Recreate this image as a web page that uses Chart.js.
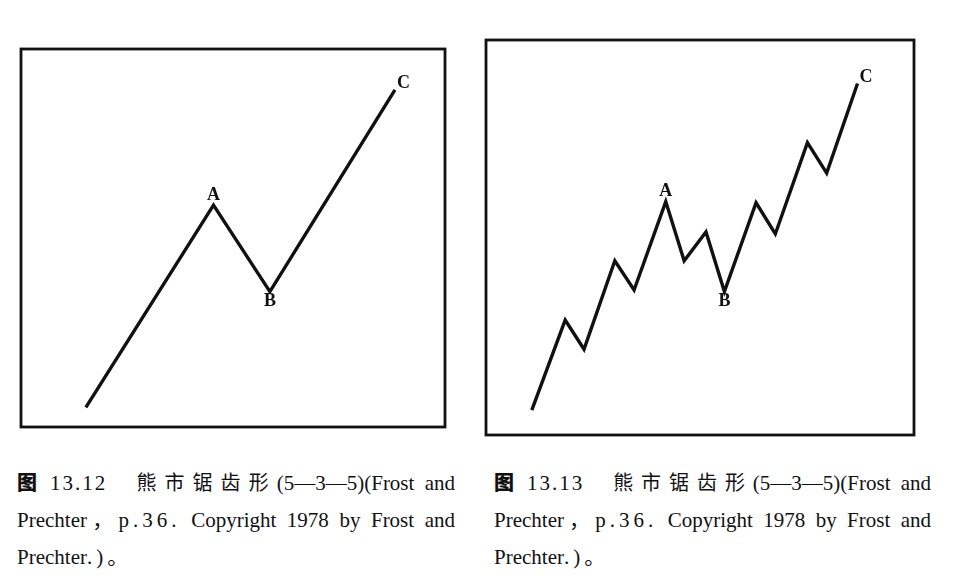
<!DOCTYPE html>
<html><head><meta charset="utf-8">
<script src="https://cdn.jsdelivr.net/npm/chart.js@4.4.1/dist/chart.umd.min.js"></script>
<style>
html,body{margin:0;padding:0;background:#fff;width:968px;height:584px;overflow:hidden;position:relative}
.box{position:absolute}
.cap{position:absolute;font-family:"Liberation Serif","Noto Sans CJK SC",serif;font-size:21px;color:#111;line-height:37px}
.cap div{text-align:justify;text-align-last:justify;text-justify:inter-word;white-space:nowrap}
.cap div.last{text-align-last:left}
.cap b{font-family:"Noto Sans CJK SC";font-weight:900;font-size:20px}
.cjk{font-family:"Noto Sans CJK SC";font-size:20px;letter-spacing:3px}
.n{letter-spacing:2px}
.p{letter-spacing:4px}
</style></head><body>
<div class="box" id="b1" style="left:15px;top:43px;width:436px;height:390px"><canvas id="c1"></canvas></div>
<div class="box" id="b2" style="left:480px;top:34px;width:440px;height:407px"><canvas id="c2"></canvas></div>
<div class="cap" style="left:17px;top:463px;width:438px">
<div><b>图</b><span class="n" style="margin-left:8px">13.12</span><span class="cjk" style="margin-left:24px">熊市锯齿形</span>(5—3—5)(Frost and</div>
<div>Prechter，<span class="p">p.36.</span> Copyright 1978 by Frost and</div>
<div class="last">Prechter<span class="p">.)</span>。</div>
</div>
<div class="cap" style="left:494px;top:463px;width:437px">
<div><b>图</b><span class="n" style="margin-left:8px">13.13</span><span class="cjk" style="margin-left:24px">熊市锯齿形</span>(5—3—5)(Frost and</div>
<div>Prechter，<span class="p">p.36.</span> Copyright 1978 by Frost and</div>
<div class="last">Prechter<span class="p">.)</span>。</div>
</div>
<script>
// Figure 13.12 (zigzag 5-3-5)
const x1 = [15.3, 45.4, 58.7, 88.2];
const y1 = [5.2, 58.7, 35.8, 89.2];
const labels1 = ['', 'A', 'B', 'C'];
// Figure 13.13 (zigzag with subwaves)
const x2 = [10.7, 18.5, 22.9, 30.1, 34.6, 42.0, 46.3, 51.4, 55.7, 63.1, 67.6, 75.1, 79.6, 86.8];
const y2 = [6.3, 29.1, 21.7, 44.1, 36.7, 59.1, 44.1, 51.4, 36.3, 58.8, 50.9, 74.0, 66.3, 89.0];
const labels2 = ['', '', '', '', '', 'A', '', '', 'B', '', '', '', '', 'C'];
// label placement: 'above', 'below', 'right'
const place1 = ['', 'above', 'below', 'right'];
const place2 = ['', '', '', '', '', 'above', '', '', 'below', '', '', '', '', 'right'];

const framePlugin = {
  id: 'frame',
  afterDraw(chart) {
    const a = chart.chartArea, ctx = chart.ctx;
    ctx.save();
    ctx.strokeStyle = '#111';
    ctx.lineWidth = 2.8;
    ctx.strokeRect(a.left, a.top, a.right - a.left, a.bottom - a.top);
    ctx.restore();
  }
};
const labelPlugin = {
  id: 'wlabels',
  afterDatasetsDraw(chart, args, opts) {
    const ctx = chart.ctx;
    const meta = chart.getDatasetMeta(0);
    ctx.save();
    ctx.fillStyle = '#111';
    ctx.font = 'bold 18px "Liberation Serif", serif';
    ctx.textAlign = 'center';
    meta.data.forEach((pt, i) => {
      const t = opts.labels[i];
      if (!t) return;
      const p = opts.place[i];
      if (p === 'above') { ctx.textBaseline = 'bottom'; ctx.fillText(t, pt.x, pt.y - 1); }
      else if (p === 'below') { ctx.textBaseline = 'top'; ctx.fillText(t, pt.x, pt.y + 1); }
      else { ctx.textBaseline = 'bottom'; ctx.textAlign = 'left'; ctx.fillText(t, pt.x + 2, pt.y + 3); ctx.textAlign = 'center'; }
    });
    ctx.restore();
  }
};

function make(id, xs, ys, labels, place, pad) {
  const data = xs.map((x, i) => ({x: x, y: ys[i]}));
  return new Chart(document.getElementById(id), {
    type: 'line',
    data: { datasets: [{ data: data, borderColor: '#111', borderWidth: 3.4, pointRadius: 0, tension: 0, fill: false, borderJoinStyle: 'miter', clip: false }] },
    options: {
      responsive: true, maintainAspectRatio: false, animation: false,
      layout: { padding: pad },
      plugins: { legend: { display: false }, tooltip: { enabled: false }, wlabels: { labels: labels, place: place } },
      scales: {
        x: { type: 'linear', min: 0, max: 100, display: false },
        y: { type: 'linear', min: 0, max: 100, display: false }
      }
    },
    plugins: [framePlugin, labelPlugin]
  });
}
make('c1', x1, y1, labels1, place1, {left: 6, top: 6, right: 6, bottom: 6});
make('c2', x2, y2, labels2, place2, {left: 6, top: 6, right: 6, bottom: 6});
</script>
</body></html>
